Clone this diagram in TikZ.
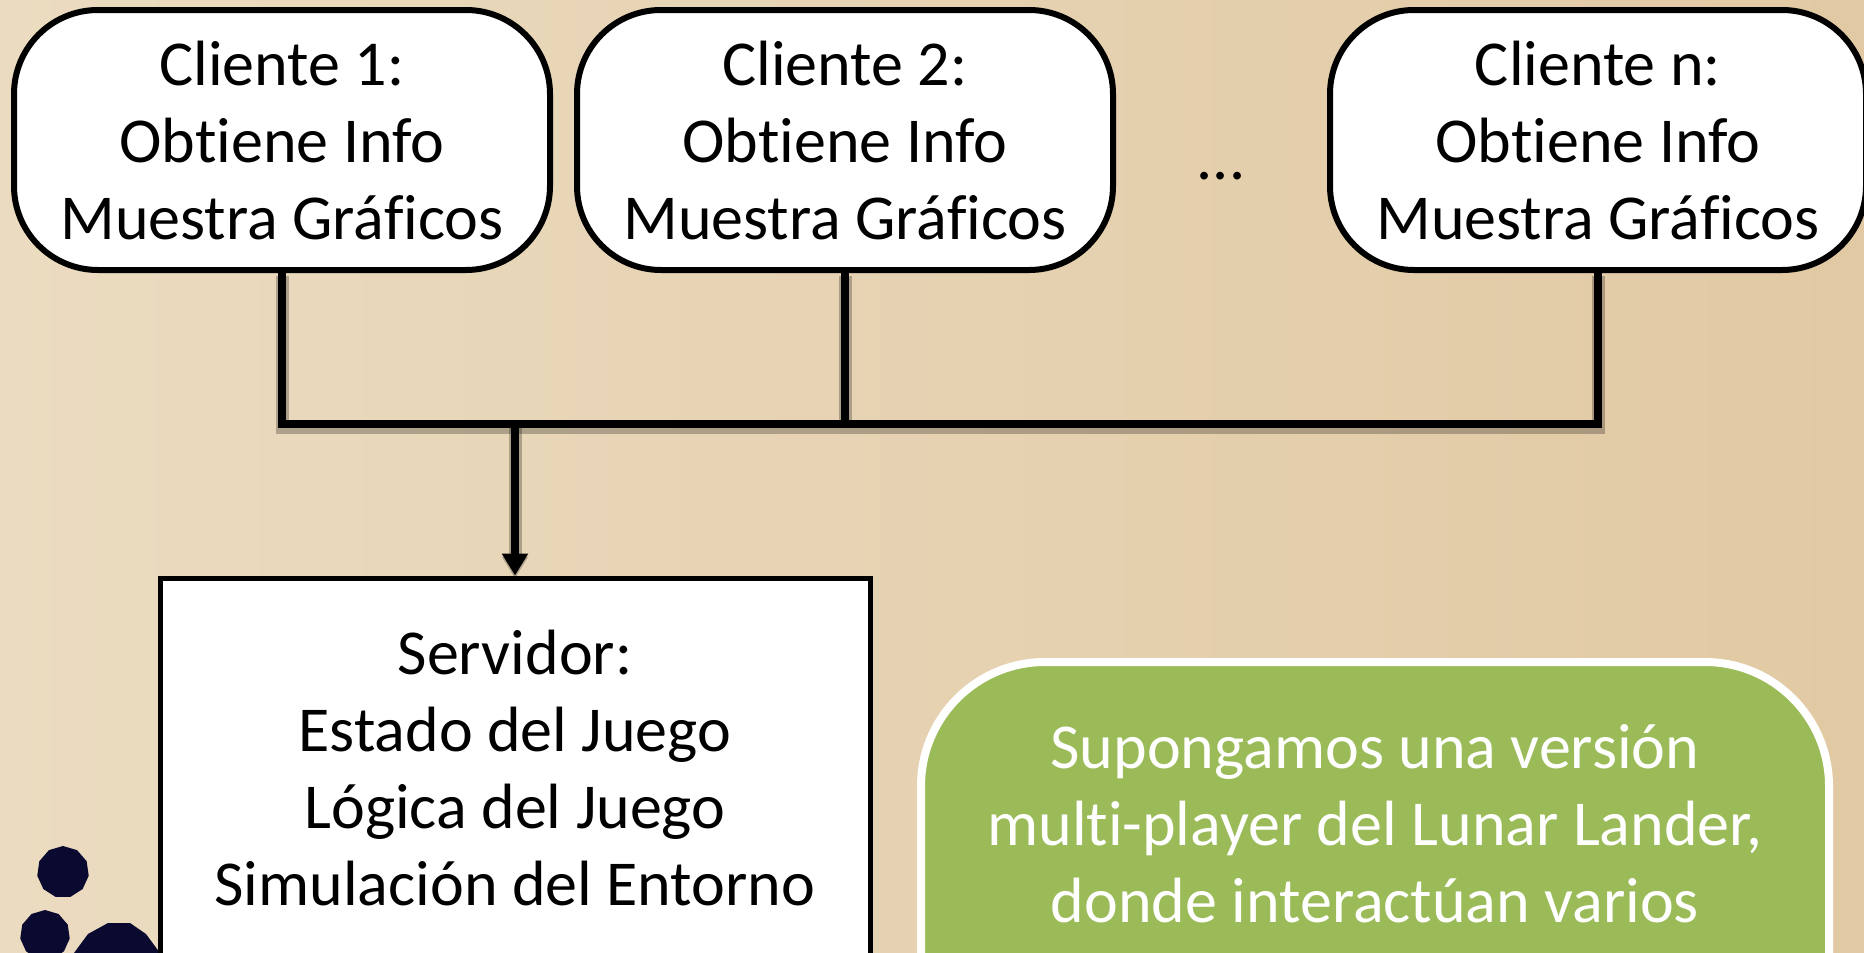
\documentclass[tikz,border=0pt]{standalone}
\usepackage{fontspec}
\setmainfont{Carlito}[Ligatures=NoCommon]
\usepackage{tikz}
\usetikzlibrary{arrows.meta,calc,positioning,shapes.geometric}
\definecolor{sandL}{HTML}{EBDBC0}
\definecolor{sandM}{HTML}{E8D6B7}
\definecolor{sandR}{HTML}{E1C9A3}
\definecolor{moss}{HTML}{9BBB59}
\definecolor{ink}{HTML}{0A0A30}
\tikzset{
  label/.style={align=center,inner sep=0pt,font=\fontsize{32}{38.5}\selectfont},
  client/.style={draw=black,fill=white,line width=3pt,rounded corners=42pt,
    minimum width=268pt,minimum height=130pt},
  server/.style={draw=black,fill=white,line width=2.5pt,
    minimum width=355pt,minimum height=192pt},
  note/.style={draw=white,fill=moss,line width=4pt,rounded corners=62pt,
    minimum width=454pt,minimum height=300pt},
  wire/.style={line width=3.8pt,
    preaction={draw=black,opacity=.25,line width=6.5pt,transform canvas={yshift=-1.5pt}}},
  blob/.style={fill=ink,regular polygon,regular polygon sides=11,inner sep=0pt}
}
\tikzstyle{arrow} = [wire,-{Triangle[length=11pt,width=12.5pt]}]
\begin{document}
\begin{tikzpicture}[x=0.5pt,y=-0.5pt]
  \clip (0,0) rectangle (1864,953);
  \shade[left color=sandL,middle color=sandM,right color=sandR] (0,0) rectangle (1864,953);

  % dark blobs in the lower left corner
  \node[blob,minimum size=26pt] (blobA) at (63,872) {};
  \node[blob,minimum size=25pt] (blobB) at (45,935) {};
  \fill[ink] (74,953) -- (88,934) -- (108,923) -- (130,923) -- (146,934) -- (160,953) -- cycle;

  % clients
  \node[client] (cli1) at (282,140) {};
  \node[client] (cli2) at (845,140) {};
  \node[client] (clin) at (1598,140) {};
  \node[label] (cli1txt) at (282,141) {Cliente 1:\\Obtiene Info\\Muestra Gráficos};
  \node[label] (cli2txt) at (845,141) {Cliente 2:\\Obtiene Info\\Muestra Gráficos};
  \node[label] (clintxt) at (1598,141) {Cliente n:\\Obtiene Info\\Muestra Gráficos};
  \node[label] (dots) at (1221,176) {...};

  % server and note run off the bottom edge
  \node[server] (srv) at (515,770) {};
  \node[label] (srvtxt) at (515,768) {Servidor:\\Estado del Juego\\Lógica del Juego\\Simulación del Entorno};
  \node[note,anchor=north] (nota) at (1375,658) {};
  \node[label,text=white] (notatxt) at (1375,824) {Supongamos una versión\\multi-player del Lunar Lander,\\donde interactúan varios};

  \coordinate (busL) at (cli1.south |- 0,424);
  \coordinate (busM) at (srv.north |- 0,424);
  \coordinate (busR) at (clin.south |- 0,424);

  \draw[wire] (cli1.south) -- (busL) -- (busR) -- (clin.south);
  \draw[wire] (cli2.south) -- (cli2.south |- busL);
  \draw[arrow] (busM) -- (srv.north);
\end{tikzpicture}
\end{document}
